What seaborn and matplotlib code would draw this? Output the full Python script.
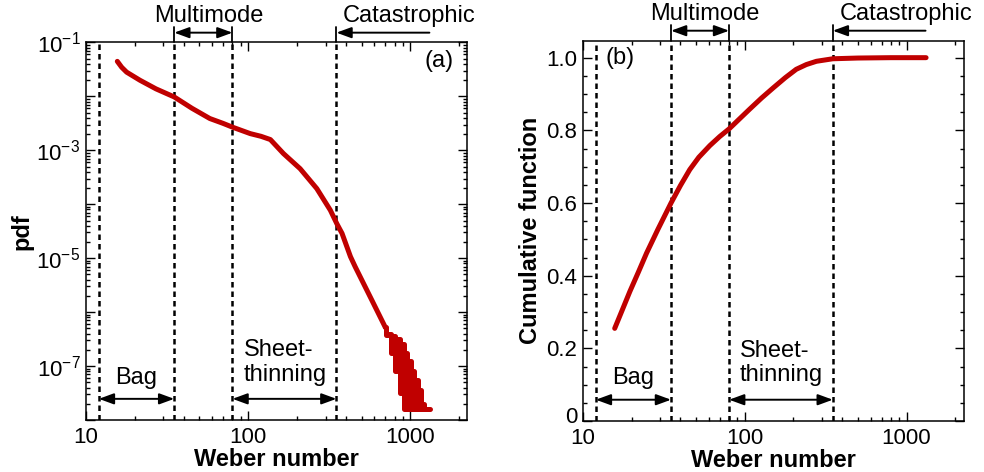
import numpy as np
import pandas as pd
import matplotlib
matplotlib.use("Agg")
import matplotlib.pyplot as plt
import matplotlib.ticker as mtick
import matplotlib.transforms as mtrans
import seaborn as sns

# ── data ─────────────────────────────────────────────────────
# (a) pdf of the Weber number, smooth part
we_pdf = [15.6, 16.6, 17.8, 21.5, 27, 35, 45, 58, 70, 80, 103, 120, 137,
          165, 209, 265, 321, 352, 379, 427, 457, 579, 700]
log_pdf = [-1.35, -1.46, -1.55, -1.70, -1.86, -2.01, -2.22, -2.41, -2.50,
           -2.57, -2.69, -2.74, -2.80, -3.06, -3.34, -3.71, -4.11, -4.36,
           -4.54, -4.97, -5.16, -5.78, -6.28]
# noisy histogram tail
we_tail = [700, 720, 745, 770, 795, 820, 845, 870, 895, 920, 945, 970, 995,
           1020, 1045, 1070, 1095, 1120, 1145, 1170, 1195, 1220, 1250, 1290,
           1327]
log_tail = [-6.28, -6.42, -6.40, -6.75, -6.45, -7.10, -6.50, -7.50, -6.60,
            -7.80, -6.75, -7.80, -6.90, -7.80, -7.10, -7.80, -7.25, -7.80,
            -7.45, -7.80, -7.70, -7.80, -7.80, -7.80, -7.80]

# (b) cumulative function
we_cdf = [15.7, 17.5, 19.5, 22, 24.7, 29, 35, 40, 45.7, 52, 60.8, 70, 80,
          92, 107, 127, 150, 178, 208, 240, 277, 350, 500, 800, 1320]
cdf = [0.255, 0.306, 0.357, 0.41, 0.462, 0.527, 0.600, 0.648, 0.692, 0.726,
       0.758, 0.783, 0.804, 0.830, 0.858, 0.889, 0.917, 0.945, 0.968, 0.981,
       0.990, 0.997, 0.999, 1.0, 1.0]

# regime boundaries
boundaries = [12, 35, 80, 350]
x_ticks = [10, 100, 1000]
x_ticklabels = ['10', '100', '1000']

df_pdf = pd.DataFrame({'We': we_pdf, 'pdf': 10.0 ** np.array(log_pdf)})
df_tail = pd.DataFrame({'We': we_tail, 'pdf': 10.0 ** np.array(log_tail)})
df_cdf = pd.DataFrame({'We': we_cdf, 'cdf': cdf})

# ── style ────────────────────────────────────────────────────
sns.set_style('ticks')
plt.rcParams['font.family'] = ['Liberation Sans', 'DejaVu Sans']
plt.rcParams['mathtext.fontset'] = 'custom'
plt.rcParams['mathtext.rm'] = 'Liberation Sans'
plt.rcParams['mathtext.it'] = 'Liberation Sans'
plt.rcParams['axes.linewidth'] = 1.1
for k in ['text.color', 'axes.labelcolor', 'xtick.color', 'ytick.color',
          'axes.edgecolor']:
    plt.rcParams[k] = 'black'

RED = '#c00000'
TICK_FS = 16
LAB_FS = 17
ANN_FS = 17

fig = plt.figure(figsize=(9.84, 4.72), dpi=100)
ax1 = fig.add_axes([0.0874, 0.1102, 0.3877, 0.7998])
ax2 = fig.add_axes([0.5925, 0.108, 0.3867, 0.806])

# (a) pdf
sns.lineplot(data=df_pdf, x='We', y='pdf', ax=ax1, color=RED, lw=3.6,
             estimator=None, legend=False)
sns.lineplot(data=df_tail, x='We', y='pdf', ax=ax1, color=RED, lw=3.6,
             estimator=None, drawstyle='steps-mid', legend=False)
ax1.set_xscale('log')
ax1.set_yscale('log')
ax1.set_ylim(1e-8, 1e-1)
ax1.yaxis.set_major_locator(mtick.FixedLocator([10.0 ** e for e in range(-8, 0)]))
ax1.yaxis.set_major_formatter(mtick.FuncFormatter(
    lambda v, p: (r'$\mathregular{10^{%d}}$' % round(np.log10(v)))
    if round(np.log10(v)) % 2 else ''))
ax1.yaxis.set_minor_locator(mtick.LogLocator(base=10, subs=np.arange(2, 10), numticks=20))
ax1.yaxis.set_minor_formatter(mtick.NullFormatter())
ax1.set_ylabel('pdf', fontsize=LAB_FS, fontweight='bold', labelpad=2)

# (b) cumulative
sns.lineplot(data=df_cdf, x='We', y='cdf', ax=ax2, color=RED, lw=3.6,
             estimator=None, legend=False)
ax2.set_xscale('log')
ax2.set_ylim(0, 1.047)
ax2.yaxis.set_major_locator(mtick.FixedLocator([0, 0.2, 0.4, 0.6, 0.8, 1.0]))
ax2.yaxis.set_major_formatter(mtick.FixedFormatter(['0', '0.2', '0.4', '0.6', '0.8', '1.0']))
ax2.yaxis.set_minor_locator(mtick.MultipleLocator(0.05))
ax2.set_ylabel('Cumulative function', fontsize=LAB_FS, fontweight='bold', labelpad=3)

for ax, tag, tagpos in [(ax1, '(a)', (0.925, 0.952)), (ax2, '(b)', (0.097, 0.955))]:
    ax.set_xlim(10, 2250)
    ax.xaxis.set_major_locator(mtick.FixedLocator(x_ticks))
    ax.xaxis.set_major_formatter(mtick.FixedFormatter(x_ticklabels))
    ax.xaxis.set_minor_locator(mtick.LogLocator(base=10, subs=np.arange(2, 10), numticks=20))
    ax.xaxis.set_minor_formatter(mtick.NullFormatter())
    ax.tick_params(which='both', direction='in', top=True, right=True,
                   labelsize=TICK_FS, width=1.0, color='black')
    ax.tick_params(which='major', length=6.5, pad=4)
    ax.tick_params(axis='x', which='major', pad=5)
    ax.tick_params(which='minor', length=3.2)
    ax.set_xlabel('Weber number', fontsize=LAB_FS, fontweight='bold', labelpad=0)
    for s in ax.spines.values():
        s.set_visible(True)
        s.set_color('black')

    tr = ax.get_xaxis_transform()
    for b in boundaries:
        ax.axvline(b, color='black', lw=1.8, ls=(0, (2.2, 1.6)), zorder=1)
    # little risers above the frame
    for b in boundaries[1:]:
        ax.plot([b, b], [1.0, 1.042], color='black', lw=1.3, transform=tr,
                clip_on=False)

    arrow = dict(arrowstyle='<|-|>,head_length=0.6,head_width=0.22',
                 color='black', lw=1.4, shrinkA=0, shrinkB=0, mutation_scale=15)
    arrow1 = dict(arrowstyle='-|>,head_length=0.6,head_width=0.22',
                  color='black', lw=1.4, shrinkA=0, shrinkB=0, mutation_scale=15)

    ax.annotate('', xy=(boundaries[1], 1.026), xytext=(boundaries[2], 1.026),
                xycoords=tr, textcoords=tr, arrowprops=arrow, annotation_clip=False)
    ax.annotate('', xy=(boundaries[3], 1.026), xytext=(1310, 1.026),
                xycoords=tr, textcoords=tr, arrowprops=arrow1, annotation_clip=False)
    ax.annotate('', xy=(boundaries[0], 0.056), xytext=(boundaries[1], 0.056),
                xycoords=tr, textcoords=tr, arrowprops=arrow, annotation_clip=False)
    ax.annotate('', xy=(boundaries[2], 0.056), xytext=(boundaries[3], 0.056),
                xycoords=tr, textcoords=tr, arrowprops=arrow, annotation_clip=False)

    ax.text(57, 1.071, 'Multimode', transform=tr, ha='center', va='center',
            fontsize=ANN_FS, clip_on=False)
    ax.text(385, 1.071, 'Catastrophic', transform=tr, ha='left', va='center',
            fontsize=ANN_FS, clip_on=False)
    ax.text(20.3, 0.112, 'Bag', transform=tr, ha='center', va='center',
            fontsize=ANN_FS)
    ax.text(169, 0.152, 'Sheet-\nthinning', transform=tr, ha='center',
            va='center', multialignment='left', linespacing=1.15,
            fontsize=ANN_FS)
    ax.text(tagpos[0], tagpos[1], tag, transform=ax.transAxes, ha='center',
            va='center', fontsize=ANN_FS)

# lift the "0" label a little, as in the original
lab0 = ax2.yaxis.get_major_ticks()[0].label1
lab0.set_transform(lab0.get_transform() +
                   mtrans.ScaledTranslation(0, 4 / 72, fig.dpi_scale_trans))

fig.savefig('out.png', dpi=100)
